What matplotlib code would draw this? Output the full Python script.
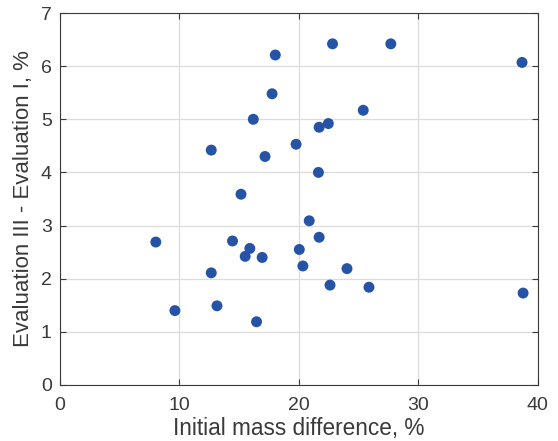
import matplotlib
matplotlib.use("Agg")
import matplotlib.pyplot as plt

# Initial mass difference (%) vs. change between evaluations III and I (%)
mass_diff = [8.02, 9.62, 12.66, 12.66, 13.14, 14.44, 15.15, 15.50, 15.89, 16.18,
             16.45, 16.92, 17.16, 17.75, 18.02, 19.76, 20.03, 20.33, 20.86, 21.63,
             21.69, 21.69, 22.46, 22.60, 22.81, 24.02, 25.38, 25.86, 27.69, 38.67,
             38.76]
eval_diff = [2.69, 1.40, 4.42, 2.11, 1.49, 2.71, 3.59, 2.42, 2.57, 5.00,
             1.19, 2.40, 4.30, 5.48, 6.21, 4.53, 2.55, 2.24, 3.09, 4.00,
             4.85, 2.78, 4.92, 1.88, 6.42, 2.19, 5.17, 1.84, 6.42, 6.07,
             1.73]

x_ticks = [0, 10, 20, 30, 40]
y_ticks = [0, 1, 2, 3, 4, 5, 6, 7]

plt.rcParams['font.family'] = ['Liberation Sans', 'DejaVu Sans']
text_color = '#3a3a3a'

fig = plt.figure(figsize=(5.58, 4.41), dpi=100)
ax = fig.add_axes([0.1075, 0.127, 0.8565, 0.8435])

ax.scatter(mass_diff, eval_diff, s=62, color='#2553a6', edgecolors='none', zorder=3)

ax.set_xlim(0, 40)
ax.set_ylim(0, 7)
ax.set_xticks(x_ticks)
ax.set_yticks(y_ticks)
ax.grid(True, color='#dcdcdc', linewidth=0.9)
ax.set_axisbelow(True)

ax.tick_params(direction='in', length=4, width=0.8, colors=text_color,
               labelsize=14, top=True, right=True, labeltop=False, labelright=False)
ax.tick_params(axis='x', pad=9)
ax.tick_params(axis='y', pad=6)
for sp in ax.spines.values():
    sp.set_color(text_color)
    sp.set_linewidth(0.8)

ax.set_xlabel('Initial mass difference, %', fontsize=16.3, color=text_color, labelpad=2)
ax.set_ylabel('Evaluation III - Evaluation I, %', fontsize=16, color=text_color, labelpad=5)

fig.savefig('out.png', dpi=100)
